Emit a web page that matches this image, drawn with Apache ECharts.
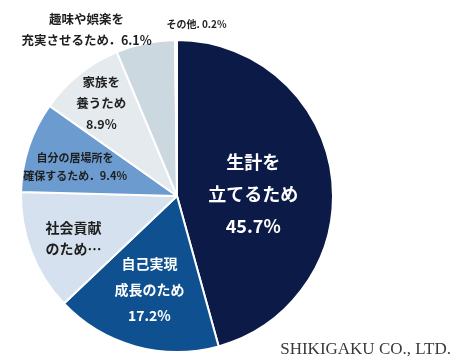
<!DOCTYPE html>
<html>
<head>
<meta charset="utf-8">
<script src="https://cdn.jsdelivr.net/npm/echarts@6/dist/echarts.min.js"></script>
<style>html,body{margin:0;padding:0;background:#fff;}#c{width:452px;height:360px;}</style>
</head>
<body>
<div id="c"></div>
<script>
const categories = ['生計を立てるため', '自己実現成長のため', '社会貢献のため…', '自分の居場所を確保するため', '家族を養うため', '趣味や娯楽を充実させるため', 'その他'];
const values = [45.7, 17.2, 12.5, 9.4, 8.9, 6.1, 0.2];
const labelTexts = ['生計を\n立てるため\n45.7%', '自己実現\n成長のため\n17.2%', '社会貢献\nのため…', '自分の居場所を\n確保するため．9.4%', '家族を\n養うため\n8.9%', '趣味や娯楽を\n充実させるため．6.1%', 'その他. 0.2%'];
const colors = ['#0c1a48', '#0e5090', '#d5e1ee', '#6c9bd0', '#e5eaee', '#cbd8e0', '#eef1f3'];

const labelStyles = [
  {fontSize: 18, lineHeight: 32, color: '#ffffff'},
  {fontSize: 14, lineHeight: 26, color: '#ffffff'},
  {fontSize: 14, lineHeight: 21, color: '#1f1f1f'},
  {fontSize: 11, lineHeight: 18, color: '#1f1f1f'},
  {fontSize: 12.5, lineHeight: 21, color: '#1f1f1f'},
  {fontSize: 12.5, lineHeight: 21, color: '#1f1f1f'},
  {fontSize: 10, lineHeight: 14, color: '#1f1f1f'}
];
const labelShift = [[-4, 9], [-6, 16], [-28, 13], [-25, -4], [-25, -30], [-74, -87], [20, -91]];

const chart = echarts.init(document.getElementById('c'));
chart.setOption({
  animation: false,
  series: [{
    type: 'pie',
    center: [177, 196],
    radius: 156,
    startAngle: 90,
    clockwise: true,
    avoidLabelOverlap: false,
    itemStyle: {borderColor: '#ffffff', borderWidth: 2},
    label: {
      show: true,
      position: 'inside',
      fontFamily: 'Noto Sans CJK JP',
      fontWeight: 'bold',
      formatter: p => labelTexts[p.dataIndex]
    },
    labelLine: {show: false},
    labelLayout: p => ({dx: labelShift[p.dataIndex][0], dy: labelShift[p.dataIndex][1]}),
    data: categories.map((n, i) => ({
      name: n,
      value: values[i],
      itemStyle: {color: colors[i]},
      label: labelStyles[i]
    }))
  }],
  graphic: [{
    type: 'text',
    right: 1,
    bottom: 2,
    style: {text: 'SHIKIGAKU CO., LTD.', font: '17px "Liberation Serif"', fill: '#3a3a3a'}
  }]
});
</script>
</body>
</html>
